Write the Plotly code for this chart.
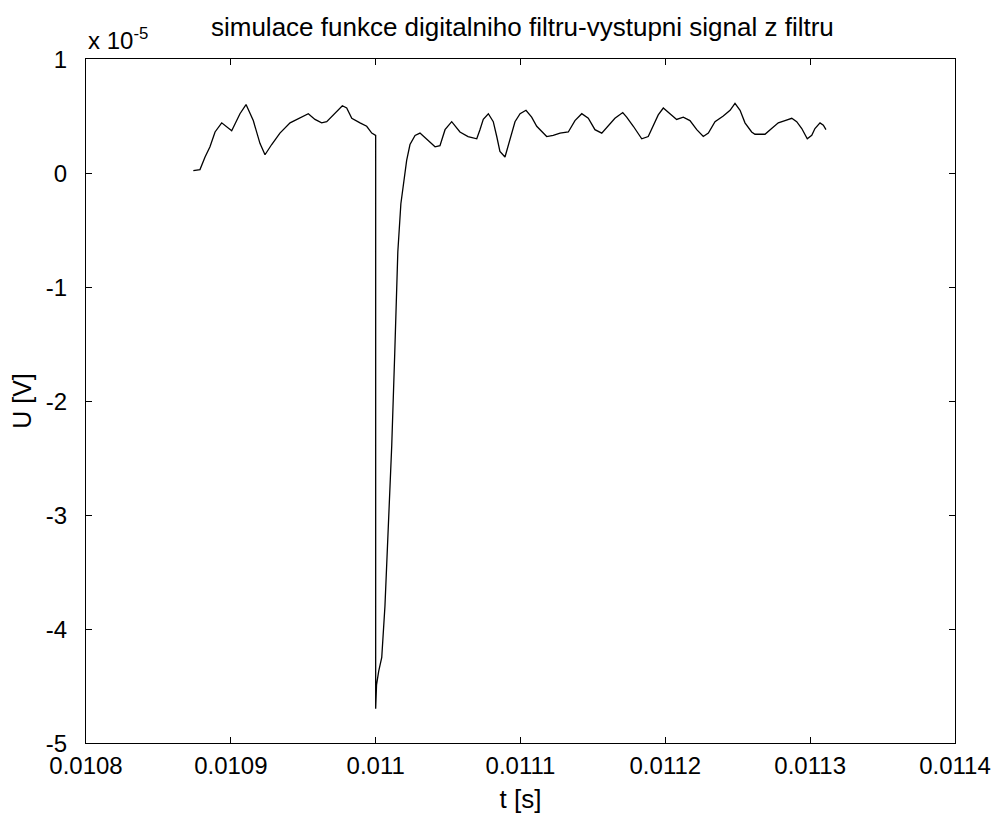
import plotly.graph_objects as go

# Filter output signal: time [s] and voltage in units of 1e-5 V
t = [0.0108741, 0.0108787, 0.0108822, 0.0108856, 0.0108891, 0.0108937, 0.0109006,
     0.0109063, 0.0109105, 0.0109155, 0.0109201, 0.0109236, 0.0109282, 0.0109339,
     0.0109409, 0.0109478, 0.0109535, 0.0109581, 0.0109627, 0.0109662, 0.0109719,
     0.0109770, 0.0109800, 0.0109835, 0.0109892, 0.0109938, 0.0109973, 0.0110000,
     0.0110000, 0.0110006, 0.0110021, 0.0110042, 0.0110064, 0.0110091, 0.0110111,
     0.0110132, 0.0110153, 0.0110174, 0.0110196, 0.0110203, 0.0110214, 0.0110237,
     0.0110272, 0.0110306, 0.0110352, 0.0110410, 0.0110444, 0.0110479, 0.0110525,
     0.0110582, 0.0110638, 0.0110698, 0.0110720, 0.0110743, 0.0110778, 0.0110812,
     0.0110836, 0.0110858, 0.0110893, 0.0110927, 0.0110962, 0.0110997, 0.0111038,
     0.0111077, 0.0111112, 0.0111181, 0.0111226, 0.0111273, 0.0111330, 0.0111376,
     0.0111423, 0.0111468, 0.0111514, 0.0111561, 0.0111606, 0.0111652, 0.0111706,
     0.0111733, 0.0111779, 0.0111837, 0.0111882, 0.0111917, 0.0111951, 0.0111986,
     0.0112032, 0.0112078, 0.0112124, 0.0112170, 0.0112217, 0.0112262, 0.0112297,
     0.0112343, 0.0112400, 0.0112447, 0.0112481, 0.0112516, 0.0112550, 0.0112596,
     0.0112619, 0.0112688, 0.0112734, 0.0112780, 0.0112826, 0.0112873, 0.0112907,
     0.0112942, 0.0112980, 0.0113011, 0.0113033, 0.0113068, 0.0113091, 0.0113109]
u = [0.02, 0.03, 0.14, 0.23, 0.36, 0.44, 0.37,
     0.52, 0.60, 0.46, 0.26, 0.16, 0.25, 0.35,
     0.44, 0.48, 0.52, 0.47, 0.44, 0.45, 0.52,
     0.59, 0.57, 0.48, 0.44, 0.41, 0.35, 0.33,
     -4.70, -4.49, -4.37, -4.25, -3.80, -2.97, -2.39,
     -1.57, -0.69, -0.27, -0.05, 0.03, 0.11, 0.25,
     0.33, 0.35, 0.30, 0.23, 0.24, 0.38, 0.45,
     0.36, 0.32, 0.30, 0.38, 0.47, 0.52, 0.45,
     0.32, 0.19, 0.14, 0.29, 0.45, 0.52, 0.55,
     0.49, 0.41, 0.32, 0.33, 0.35, 0.36, 0.46,
     0.52, 0.48, 0.38, 0.35, 0.41, 0.48, 0.53,
     0.49, 0.41, 0.30, 0.32, 0.41, 0.51, 0.57,
     0.52, 0.47, 0.49, 0.46, 0.38, 0.32, 0.35,
     0.45, 0.50, 0.55, 0.61, 0.55, 0.44, 0.36,
     0.34, 0.34, 0.39, 0.44, 0.46, 0.48, 0.45,
     0.39, 0.30, 0.33, 0.39, 0.44, 0.42, 0.38]

x_ticks = [0.0108, 0.0109, 0.011, 0.0111, 0.0112, 0.0113, 0.0114]
x_ticktext = ["0.0108", "0.0109", "0.011", "0.0111", "0.0112", "0.0113", "0.0114"]
y_ticks = [-5, -4, -3, -2, -1, 0, 1]
y_ticktext = ["-5", "-4", "-3", "-2", "-1", "0", "1"]

FONT = "Liberation Sans, Arial, sans-serif"

fig = go.Figure(
    go.Scatter(x=t, y=u, mode="lines", line=dict(color="black", width=1.3),
               hoverinfo="skip", showlegend=False)
)

axis_common = dict(
    showline=True, linecolor="black", linewidth=1.3, mirror="allticks",
    ticks="inside", ticklen=6, tickcolor="black", tickwidth=1,
    showgrid=False, zeroline=False, automargin=False,
    tickfont=dict(family=FONT, size=24, color="black"),
)

fig.update_xaxes(range=[0.0108, 0.0114], tickvals=x_ticks, ticktext=x_ticktext,
                 ticklabelstandoff=1,
                 title=dict(text="t [s]", font=dict(family=FONT, size=26, color="black"),
                            standoff=11),
                 **axis_common)
fig.update_yaxes(range=[-5, 1], tickvals=y_ticks, ticktext=y_ticktext,
                 ticklabelstandoff=13, ticklabelshift=1,
                 title=dict(text="U [V]", font=dict(family=FONT, size=25, color="black"),
                            standoff=6),
                 **axis_common)

fig.update_layout(
    width=996, height=816,
    margin=dict(l=86, r=41, t=59, b=73, autoexpand=False),
    paper_bgcolor="white", plot_bgcolor="white",
    title=dict(text="simulace funkce digitalniho filtru-vystupni signal z filtru",
               x=0.5245, xanchor="center", y=0.967, yanchor="middle",
               font=dict(family=FONT, size=26, color="black")),
    annotations=[dict(text="x 10<sup>-5</sup>", xref="paper", yref="paper",
                      x=0.0, y=1.0, xanchor="left", yanchor="bottom", yshift=3,
                      showarrow=False,
                      font=dict(family=FONT, size=24, color="black"))],
)

fig.write_html("out.html")
